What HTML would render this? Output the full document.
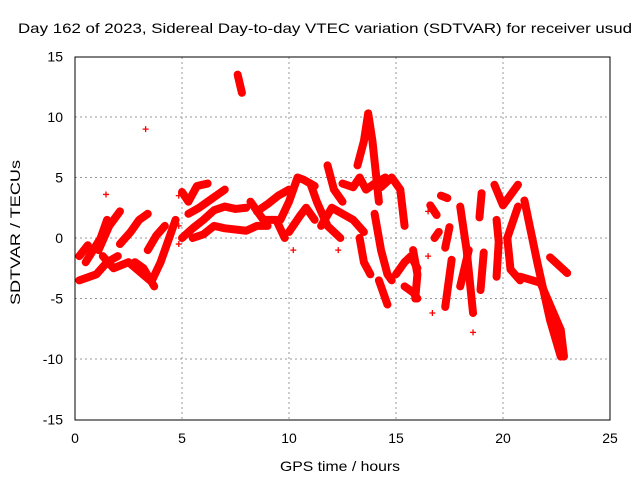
<!DOCTYPE html>
<html><head><meta charset="utf-8"><style>
body{margin:0;background:#fff}
svg{font-family:"Liberation Sans",sans-serif;font-size:14px}
</style></head><body>
<svg id="c" width="640" height="480">
<text x="18" y="33" textLength="614" lengthAdjust="spacingAndGlyphs">Day 162 of 2023, Sidereal Day-to-day VTEC variation (SDTVAR) for receiver usud</text>
<text x="280" y="471" textLength="120" lengthAdjust="spacingAndGlyphs">GPS time / hours</text>
<text transform="translate(20,305) rotate(-90)" textLength="145" lengthAdjust="spacingAndGlyphs">SDTVAR / TECUs</text>
<g id="grid"></g><g id="marks"></g>
<rect x="75" y="57" width="535" height="363" fill="none" stroke="#000"/>
</svg>
<script>
const xTicks=[0,5,10,15,20,25];
const yTicks=[-15,-10,-5,0,5,10,15];
const tracks=[
[[0.2,-1.5],[0.6,-0.6]],
[[0.2,-3.5],[1,-3],[1.5,-2],[2,-1.5]],
[[0.5,-2],[1.2,0],[1.5,1.5]],
[[1.1,-1],[1.6,1],[2.1,2.2]],
[[1.3,-1.5],[1.8,-2.5],[2.5,-2],[3.5,-3.5]],
[[2.1,-0.5],[2.6,0.5],[3,1.5],[3.4,2]],
[[2.8,-2],[3.2,-2.5],[3.7,-4]],
[[3.6,-3.5],[4,-2],[4.4,0],[4.7,1.5]],
[[3.4,-1],[3.8,0.2],[4.2,1]],
[[5,3.8],[5.3,3],[5.7,4.3],[6.2,4.5]],
[[5,0],[5.5,0.8],[6,1.5],[6.5,2.3],[7,2.6],[7.5,2.4],[8,2.5]],
[[5.3,2],[5.8,2.5],[6.2,3],[6.6,3.5],[7,4]],
[[5.5,0],[6,0.3],[6.5,1],[7,0.8],[7.5,0.7],[8,0.6],[8.5,1],[9,1]],
[[7.6,13.5],[7.8,12]],
[[8.5,2.2],[9,2.8],[9.5,3.5],[10,4]],
[[8.2,3],[8.8,1.5],[9.4,1.5],[9.8,0]],
[[9.6,1.5],[10,3],[10.4,5],[10.7,4.8],[11.2,4.3]],
[[10,0.5],[10.5,1.8],[10.8,2.5],[11.2,1.5]],
[[11,4.5],[11.3,3],[11.8,1],[12.4,0]],
[[11.5,1],[12,2.5],[12.5,2],[13,1.5],[13.5,0.5]],
[[11.8,6],[12.1,4],[12.5,3]],
[[12.5,4.5],[13,4.2],[13.3,5],[13.6,4],[14,4.5],[14.5,5]],
[[13.2,6],[13.5,8],[13.7,10.3],[13.9,8],[14.2,3]],
[[13.3,0],[13.5,-2],[13.8,-3]],
[[14,2],[14.3,-1],[14.6,-3],[14.8,-3.5]],
[[14.3,4.2],[14.8,5],[15.2,4],[15.4,1]],
[[14.2,-3.5],[14.6,-5.5]],
[[15,-3],[15.4,-2],[15.7,-1.5],[16,-2.5]],
[[15.4,-4],[15.8,-4.5],[16,-5]],
[[15.8,-1],[16,-3],[15.9,-5]],
[[16.6,2.7],[16.9,1.9]],
[[16.8,0],[17,0.5]],
[[17.1,3.5],[17.4,3.3]],
[[18,2.6],[18.3,-1],[18.6,-6.2]],
[[17.5,0.9],[17.3,-0.8]],
[[17.6,-1.8],[17.3,-5.7]],
[[19,3.7],[18.9,1.7]],
[[19.6,4.4],[20,2.7],[20.7,4.4]],
[[18.4,-1],[18,-4]],
[[19.7,1.5],[19.8,-0.3],[19.7,-3.2]],
[[19.1,-1.2],[18.95,-4.3]],
[[20.7,2.6],[20.2,0],[20.35,-2.6],[20.8,-3.5]],
[[21,3.1],[21.6,-2],[22.2,-6.8],[22.7,-9.8]],
[[20.8,-3.2],[21.75,-3.7],[22.7,-7.6],[22.85,-9.8]],
[[22.2,-1.6],[23,-2.9]]
];
const points=[[3.3,9],[1.45,3.6],[4.85,3.5],[4.85,1],[4.85,-0.5],[16.5,2.2],[16.7,-6.2],[18.6,-7.8],[16.5,-1.5],[12.3,-1],[10.2,-1]];
const X=t=>75+t*(535/25), Y=v=>238-v*(363/30);
const NS='http://www.w3.org/2000/svg';
const g=document.getElementById('grid'), m=document.getElementById('marks');
function mk(tag,attrs,parent){const e=document.createElementNS(NS,tag);for(const k in attrs)e.setAttribute(k,attrs[k]);parent.appendChild(e);return e;}
xTicks.forEach(t=>{
 if(t>0&&t<25){const l=mk('line',{x1:X(t),x2:X(t),y1:57,y2:420,stroke:'#999','stroke-dasharray':'2,3'},g);
 
 }
 const tx=mk('text',{x:X(t),y:443,'text-anchor':'middle'},g);tx.textContent=t;
 
 
});
yTicks.forEach(v=>{
 if(v>-15&&v<15){const l=mk('line',{x1:75,x2:610,y1:Y(v),y2:Y(v),stroke:'#999','stroke-dasharray':'2,3'},g);
 
 }
 const tx=mk('text',{x:63,y:Y(v)+5,'text-anchor':'end'},g);tx.textContent=v;
 
 
});
tracks.forEach(tr=>{
 const p=mk('polyline',{points:tr.map(d=>X(d[0])+','+Y(d[1])).join(' '),fill:'none',stroke:'#f00','stroke-width':8,'stroke-linejoin':'round','stroke-linecap':'round'},m);
 
 
});
points.forEach(d=>{
 const x=X(d[0]),y=Y(d[1]);
 const p=mk('path',{d:`M${x-3},${y}H${x+3}M${x},${y-3}V${y+3}`,stroke:'#f00','stroke-width':1.3},m);
 
 
});
</script>
</body></html>
